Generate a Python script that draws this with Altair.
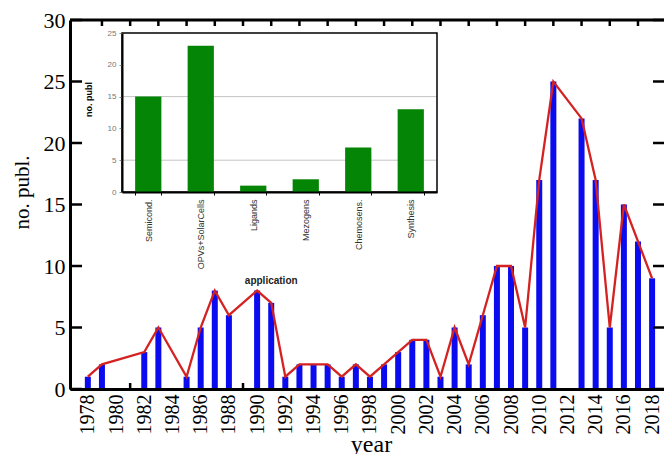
import altair as alt
import pandas as pd

# Publications per year (years without publications are simply absent)
years = [1978, 1979, 1982, 1983, 1985, 1986, 1987, 1988, 1990, 1991,
         1992, 1993, 1994, 1995, 1996, 1997, 1998, 1999, 2000, 2001,
         2002, 2003, 2004, 2005, 2006, 2007, 2008, 2009, 2010, 2011,
         2013, 2014, 2015, 2016, 2017, 2018]
counts = [1, 2, 3, 5, 1, 5, 8, 6, 8, 7,
          1, 2, 2, 2, 1, 2, 1, 2, 3, 4,
          4, 1, 5, 2, 6, 10, 10, 5, 17, 25,
          22, 17, 5, 15, 12, 9]

# Publications per topic (inset)
topics = ["Semicond.", "OPVs+SolarCells", "Ligands", "Mezogens", "Chemosens.", "Synthesis"]
topic_counts = [15, 23, 1, 2, 7, 13]

# Axis ticks and labels
year_labels = list(range(1978, 2019, 2))
minor_years = list(range(1979, 2018, 2))
y_ticks = [0, 5, 10, 15, 20, 25, 30]
inset_ticks = [0, 5, 10, 15, 20, 25]
inset_grid = [5, 15]

# Annotation
note_text = ["application"]
note_year = [1991.0]
note_value = [8.8]

W, H = 594, 369
SERIF = "Liberation Serif"
SANS = "Liberation Sans"

pubs = pd.DataFrame({"year": years, "n": counts})
topic_df = pd.DataFrame({"topic": topics, "n": topic_counts})

x_scale = alt.Scale(domain=[1977.09, 2018.49], nice=False, zero=False)
y_scale = alt.Scale(domain=[0, 30], nice=False)

x_axis = alt.Axis(
    values=year_labels, format="d", labelAngle=270, labelAlign="right",
    labelBaseline="middle", labelFont=SERIF, labelFontSize=20,
    labelColor="black", labelPadding=5, labelFlush=False, labelOverlap=False,
    labelBound=False, tickSize=0, domainColor="black", domainWidth=3,
    grid=False, zindex=1,
    title="year", titleFont=SERIF, titleFontSize=24, titleFontWeight="normal",
    titleColor="black", titleX=301, titleY=62, titleBaseline="alphabetic",
)
y_axis = alt.Axis(
    values=y_ticks, labelFont=SERIF, labelFontSize=22, labelColor="black",
    labelPadding=5, labelFlush=False, labelOverlap=False, tickSize=0,
    domainColor="black", domainWidth=3, grid=False, zindex=1,
    title="no. publ.", titleFont=SERIF, titleFontSize=21,
    titleFontWeight="normal", titleColor="black", titleAngle=270,
    titleX=-42, titleY=172, titleAlign="center", titleBaseline="alphabetic",
)

# Inward tick marks and frame
ytick_df = pd.DataFrame({"n": y_ticks})
minor_df = pd.DataFrame({"year": minor_years})
one_row = pd.DataFrame({"k": [0]})

bottom_ticks = alt.Chart(minor_df).mark_rule(color="black", strokeWidth=2.5).encode(
    x=alt.X("year:Q", scale=x_scale, axis=x_axis), y=alt.value(H - 6), y2=alt.value(H))

bars = alt.Chart(pubs).mark_bar(size=6, color="#0b0bf0").encode(
    x=alt.X("year:Q", scale=x_scale, axis=x_axis),
    y=alt.Y("n:Q", scale=y_scale, axis=y_axis),
)

trend = alt.Chart(pubs).mark_line(color="#d42222", strokeWidth=2.3).encode(
    x=alt.X("year:Q", scale=x_scale, axis=x_axis),
    y=alt.Y("n:Q", scale=y_scale, axis=y_axis),
    order="year:Q",
)

left_ticks = alt.Chart(ytick_df).mark_rule(color="black", strokeWidth=2.5).encode(
    y=alt.Y("n:Q", scale=y_scale, axis=y_axis), x=alt.value(0), x2=alt.value(12))
right_ticks = alt.Chart(ytick_df).mark_rule(color="black", strokeWidth=2.5).encode(
    y=alt.Y("n:Q", scale=y_scale, axis=y_axis), x=alt.value(W - 11), x2=alt.value(W))
top_ticks = alt.Chart(minor_df).mark_rule(color="black", strokeWidth=2.5).encode(
    x=alt.X("year:Q", scale=x_scale, axis=x_axis), y=alt.value(0), y2=alt.value(6))
top_line = alt.Chart(one_row).mark_rule(color="black", strokeWidth=3).encode(
    x=alt.value(0), x2=alt.value(W), y=alt.value(0))

note = alt.Chart(pd.DataFrame({"year": note_year, "n": note_value, "t": note_text})).mark_text(
    font=SANS, fontSize=10, fontWeight="bold", color="#222"
).encode(
    x=alt.X("year:Q", scale=x_scale, axis=x_axis),
    y=alt.Y("n:Q", scale=y_scale, axis=y_axis),
    text="t:N",
)

main = alt.layer(bottom_ticks, bars, trend, left_ticks, right_ticks, top_ticks, top_line, note)

# Inset: publications by topic
IX0, IX1, IY0, IY1 = 52, 367, 13, 172
ix_scale = alt.Scale(domain=topics, range=[IX0, IX1], paddingInner=0.5, paddingOuter=0.25)
iy_scale = alt.Scale(domain=[0, 25], range=[IY1, IY0], nice=False)

iy_axis = alt.Axis(
    orient="left", offset=-IX0, values=inset_ticks, labelFont=SANS,
    labelFontSize=8, labelColor="#777", labelPadding=3, tickSize=3,
    tickColor="#888", domainColor="black", domainWidth=2, grid=False, zindex=1,
    title="no. publ", titleFont=SANS, titleFontSize=9, titleFontWeight="bold",
    titleColor="black", titleAngle=270, titleX=-31, titleY=79,
    titleAlign="center", titleBaseline="alphabetic")

inset_bars = alt.Chart(topic_df).mark_bar(color="#058505").encode(
    x=alt.X("topic:N", sort=topics, scale=ix_scale, axis=alt.Axis(
        orient="bottom", offset=-(H - IY1), labelAngle=270, labelAlign="right",
        labelBaseline="middle", labelFont=SANS, labelFontSize=9, labelColor="#333",
        labelPadding=4, tickSize=3, tickColor="black", tickBand="extent",
        domainColor="black", domainWidth=2, zindex=1, title=None)),
    y=alt.Y("n:Q", scale=iy_scale, axis=iy_axis),
)

frame = alt.Chart(one_row).mark_rect(fill="white", stroke="black", strokeWidth=1.5).encode(
    x=alt.value(IX0), x2=alt.value(IX1), y=alt.value(IY0), y2=alt.value(IY1))

grid = alt.Chart(pd.DataFrame({"n": inset_grid})).mark_rule(color="#c4c4c4", strokeWidth=1).encode(
    y=alt.Y("n:Q", scale=iy_scale, axis=iy_axis), x=alt.value(IX0 + 1), x2=alt.value(IX1 - 1))

inset = alt.layer(frame, grid, inset_bars)

chart = alt.layer(main, inset).resolve_scale(
    x="independent", y="independent"
).properties(
    width=W, height=H,
    padding={"left": 70, "top": 20, "right": 0, "bottom": 65},
    autosize=alt.AutoSizeParams(type="none"),
    background="white",
).configure_view(stroke=None).configure_axis(labelOverlap=False)

chart.save("out.html", embed_options={"renderer": "svg", "actions": False})
